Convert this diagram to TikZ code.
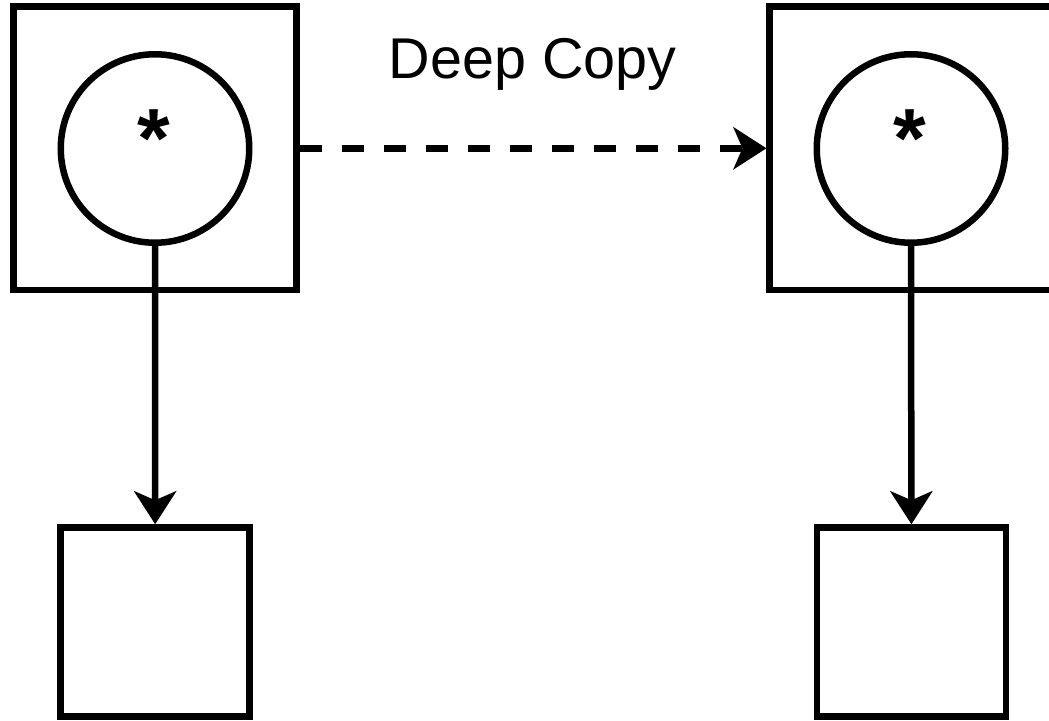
\documentclass[tikz,border=0pt]{standalone}
\usepackage{fontspec}
\setmainfont{Liberation Sans}
\usetikzlibrary{arrows.meta}
\begin{document}
\begin{tikzpicture}[x=1pt,y=-1pt,
  every node/.style={inner sep=0pt},
  stroke/.style={line width=6.5pt},
  outerbox/.style={draw, stroke, rectangle, minimum width=283pt, minimum height=283.3pt},
  ptrcircle/.style={draw, stroke, circle, minimum size=188.5pt},
  star/.style={anchor=north, font=\fontsize{84}{84}\selectfont\bfseries},
  targetbox/.style={draw, stroke, rectangle, minimum width=189pt, minimum height=189pt},
  link/.style={stroke, -{Stealth[length=33pt, width=42pt, inset=9pt]}},
]
\useasboundingbox (0,0) rectangle (1049,720);
% source object holding a pointer
\node[outerbox] (srcbox) at (155,148.3) {};
\node[ptrcircle] (srcptr) at (155,148.5) {};
\node[star] (srcstar) at (154.2,110) {*};
\node[targetbox] (srcdata) at (155.2,622) {};
% copied object with its own pointer
\node[outerbox] (dstbox) at (911.2,148.3) {};
\node[ptrcircle] (dstptr) at (911,148.5) {};
\node[star] (dststar) at (910.2,110) {*};
\node[targetbox] (dstdata) at (911.4,622) {};
% pointer targets
\draw[link] (srcptr.south) -- (srcdata.north);
\draw[link] (dstptr.south) -- (dstdata.north);
% copy relation
\draw[link, dash pattern=on 22pt off 20pt] (srcbox.east) -- (dstbox.west);
\node[font=\fontsize{57.5}{66}\selectfont, anchor=base] (copylabel) at (532.5,78.3) {Deep Copy};
\end{tikzpicture}
\end{document}
